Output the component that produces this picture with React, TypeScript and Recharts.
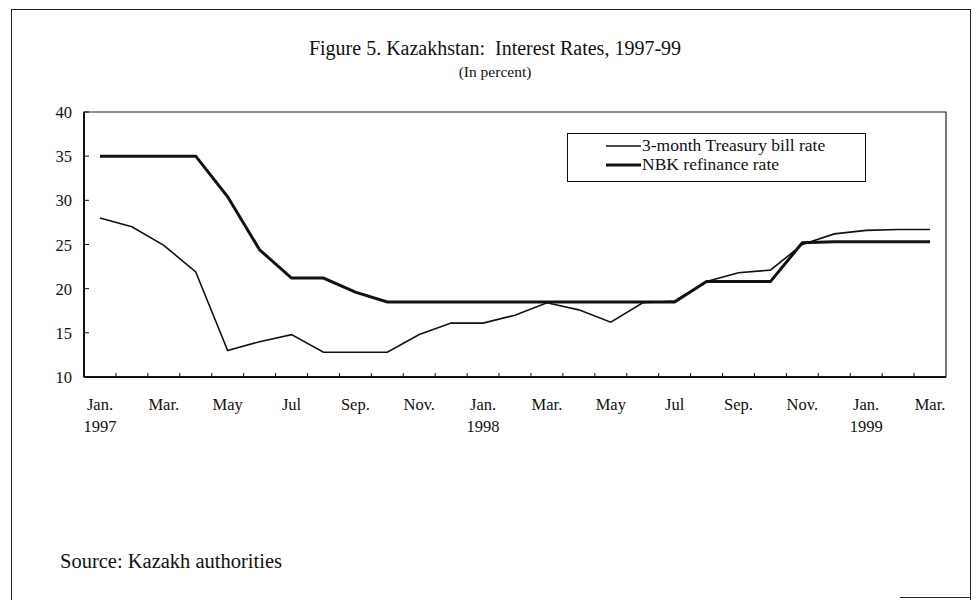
import {
  LineChart,
  Line,
  XAxis,
  YAxis,
  Legend,
  ReferenceArea,
} from 'recharts';

// Jan 1997 .. Mar 1999, monthly
const periods = [
  'Jan-97', 'Feb-97', 'Mar-97', 'Apr-97', 'May-97', 'Jun-97', 'Jul-97', 'Aug-97', 'Sep-97',
  'Oct-97', 'Nov-97', 'Dec-97', 'Jan-98', 'Feb-98', 'Mar-98', 'Apr-98', 'May-98', 'Jun-98',
  'Jul-98', 'Aug-98', 'Sep-98', 'Oct-98', 'Nov-98', 'Dec-98', 'Jan-99', 'Feb-99', 'Mar-99',
];

const tbillRate = [
  28.0, 27.0, 24.9, 21.9, 13.0, 14.0, 14.8, 12.8, 12.8,
  12.8, 14.8, 16.1, 16.1, 17.0, 18.4, 17.6, 16.2, 18.4,
  18.6, 20.8, 21.8, 22.1, 25.0, 26.2, 26.6, 26.7, 26.7,
];

const refinanceRate = [
  35, 35, 35, 35, 30.4, 24.4, 21.2, 21.2, 19.6,
  18.5, 18.5, 18.5, 18.5, 18.5, 18.5, 18.5, 18.5, 18.5,
  18.5, 20.8, 20.8, 20.8, 25.2, 25.3, 25.3, 25.3, 25.3,
];

const monthTicks = [0, 2, 4, 6, 8, 10, 12, 14, 16, 18, 20, 22, 24, 26];
const monthLabels = ['Jan.', 'Mar.', 'May', 'Jul', 'Sep.', 'Nov.', 'Jan.', 'Mar.', 'May', 'Jul', 'Sep.', 'Nov.', 'Jan.', 'Mar.'];
const yearLabels = ['1997', '', '', '', '', '', '1998', '', '', '', '', '', '1999', ''];
const yTicks = [10, 15, 20, 25, 30, 35, 40];

const data = periods.map((p, i) => ({
  idx: i,
  period: p,
  tbill: tbillRate[i],
  nbk: refinanceRate[i],
}));

// small tick marks sit between the months, labels under every second month
const boundaryTicks = periods.slice(1).map((_, i) => i + 0.5);
const xTicks = [...monthTicks, ...boundaryTicks].sort((a, b) => a - b);

const FONT = '"Liberation Serif", "Times New Roman", serif';
const lineWidths: Record<string, number> = { tbill: 1.6, nbk: 3 };

const MonthTick = ({ x, y, payload }: any) => {
  const v = payload.value;
  if (v % 1 !== 0) {
    return <line x1={x} x2={x} y1={y} y2={y - 4} stroke="#111" strokeWidth={1} />;
  }
  const k = monthTicks.indexOf(v);
  return (
    <g>
      <text x={x} y={y + 33} textAnchor="middle" fontSize={16.5} fontFamily={FONT} fill="#111">
        {monthLabels[k]}
      </text>
      {yearLabels[k] && (
        <text x={x} y={y + 55} textAnchor="middle" fontSize={16.5} fontFamily={FONT} fill="#111">
          {yearLabels[k]}
        </text>
      )}
    </g>
  );
};

const ValueTick = ({ x, y, payload }: any) => (
  <g>
    <line x1={x + 12} x2={x + 17} y1={y} y2={y} stroke="#111" strokeWidth={1} />
    <text x={x} y={y} dy={6} textAnchor="end" fontSize={16.5} fontFamily={FONT} fill="#111">
      {payload.value}
    </text>
  </g>
);

const LegendBox = ({ payload }: any) => (
  <div
    style={{
      width: 299,
      height: 49,
      boxSizing: 'border-box',
      border: '1px solid #111',
      fontFamily: FONT,
      fontSize: 17.5,
      color: '#111',
      paddingTop: 2,
    }}
  >
    {(payload || []).map((entry: any) => (
      <div key={entry.value} style={{ display: 'flex', alignItems: 'center', height: 19 }}>
        <svg width={74} height={19}>
          <line x1={38} x2={73} y1={10} y2={10} stroke="#111" strokeWidth={lineWidths[entry.dataKey]} />
        </svg>
        <span style={{ lineHeight: '19px' }}>{entry.value}</span>
      </div>
    ))}
  </div>
);

export default function App() {
  return (
    <div style={{ position: 'absolute', left: 0, top: 0, width: 977, height: 600, background: '#fff', fontFamily: FONT }}>
      <div
        style={{
          position: 'absolute',
          left: 11,
          top: 9,
          width: 958,
          height: 591,
          borderTop: '1px solid #222',
          borderLeft: '1px solid #222',
          borderRight: '1px solid #222',
        }}
      />
      <div style={{ position: 'absolute', left: 900, top: 597, width: 70, borderTop: '1px solid #222' }} />

      <div style={{ position: 'absolute', left: 0, width: 990, top: 37, textAlign: 'center', fontSize: 20, color: '#111', whiteSpace: 'pre' }}>
        {'Figure 5. Kazakhstan:  Interest Rates, 1997-99'}
      </div>
      <div style={{ position: 'absolute', left: 0, width: 990, top: 63, textAlign: 'center', fontSize: 15.5, color: '#111' }}>
        (In percent)
      </div>
      <div style={{ position: 'absolute', left: 60, top: 550, fontSize: 20.5, color: '#111' }}>
        Source: Kazakh authorities
      </div>

      <div style={{ position: 'absolute', left: 0, top: 0 }}>
        <LineChart width={977} height={600} data={data} margin={{ top: 112, right: 31, bottom: 163, left: 44 }}>
          <ReferenceArea x1={-0.5} x2={26.5} y1={10} y2={40} fill="none" stroke="#222" strokeWidth={1.2} ifOverflow="visible" />
          <XAxis
            type="number"
            dataKey="idx"
            domain={[-0.5, 26.5]}
            ticks={xTicks}
            interval={0}
            height={60}
            axisLine={{ stroke: '#111', strokeWidth: 2 }}
            tickLine={false}
            tickSize={0}
            tickMargin={0}
            tick={<MonthTick />}
          />
          <YAxis
            domain={[10, 40]}
            ticks={yTicks}
            interval={0}
            width={40}
            axisLine={{ stroke: '#111', strokeWidth: 2 }}
            tickLine={false}
            tickSize={0}
            tickMargin={12}
            tick={<ValueTick />}
          />
          <Legend
            layout="vertical"
            align="center"
            verticalAlign="middle"
            content={<LegendBox />}
            wrapperStyle={{ left: 567, top: 133, width: 299, height: 49 }}
          />
          <Line
            dataKey="tbill"
            name="3-month Treasury bill rate"
            stroke="#111"
            strokeWidth={lineWidths.tbill}
            dot={false}
            type="linear"
            isAnimationActive={false}
          />
          <Line
            dataKey="nbk"
            name="NBK refinance rate"
            stroke="#111"
            strokeWidth={lineWidths.nbk}
            dot={false}
            type="linear"
            isAnimationActive={false}
          />
        </LineChart>
      </div>
    </div>
  );
}
